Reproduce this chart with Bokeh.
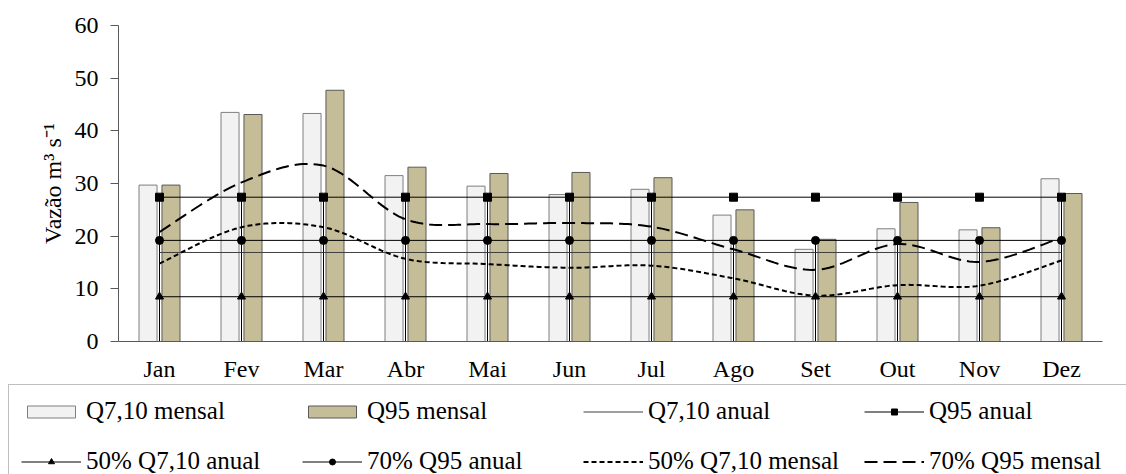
import numpy as np
from bokeh.plotting import figure
from bokeh.models import Range1d, FixedTicker, Legend, LegendItem
from bokeh.embed import file_html
from bokeh.resources import INLINE

months = ["Jan", "Fev", "Mar", "Abr", "Mai", "Jun", "Jul", "Ago", "Set", "Out", "Nov", "Dez"]
q710_mensal = [29.7, 43.5, 43.3, 31.5, 29.5, 27.9, 28.9, 24.0, 17.5, 21.4, 21.2, 30.9]
q95_mensal = [29.7, 43.1, 47.7, 33.1, 31.9, 32.1, 31.1, 25.0, 19.4, 26.4, 21.6, 28.1]
q710_anual = [16.9] * 12
q95_anual = [27.4] * 12
p50_q710_anual = [8.5] * 12
p70_q95_anual = [19.2] * 12
p50_q710_mensal = [14.8, 21.7, 21.7, 15.7, 14.7, 14.0, 14.4, 12.0, 8.7, 10.7, 10.6, 15.4]
p70_q95_mensal = [20.8, 30.2, 33.4, 23.2, 22.3, 22.5, 21.8, 17.5, 13.6, 18.5, 15.1, 19.7]
y_ticks = [0, 10, 20, 30, 40, 50, 60]

FONT = "Liberation Serif"
x = list(range(len(months)))

# page geometry (pixels): plot area spans 118..1102 horizontally, 25..341 vertically
W, H = 1126, 474
PL, PR, PT, PB = 118, 1102, 25, 341
X0, X1 = -0.5, 11.5
Y0, Y1 = 0, 60
kx = (PR - PL) / (X1 - X0)
ky = (PB - PT) / (Y1 - Y0)
x_range = Range1d(X0 - PL / kx, X1 + (W - PR) / kx)
y_range = Range1d(Y0 - (H - PB) / ky, Y1 + PT / ky)


def smooth(xs, ys, n=24):
    """Bezier (Catmull-Rom style) smoothing used only for drawing the curve."""
    xs = np.asarray(xs, float)
    ys = np.asarray(ys, float)
    px = np.concatenate([[xs[0]], xs, [xs[-1]]])
    py = np.concatenate([[ys[0]], ys, [ys[-1]]])
    out_x, out_y = [], []
    t = np.linspace(0, 1, n, endpoint=False)
    for i in range(1, len(px) - 2):
        p0x, p1x = px[i], px[i + 1]
        p0y, p1y = py[i], py[i + 1]
        c1x = p0x + (px[i + 1] - px[i - 1]) / 6.0
        c1y = p0y + (py[i + 1] - py[i - 1]) / 6.0
        c2x = p1x - (px[i + 2] - px[i]) / 6.0
        c2y = p1y - (py[i + 2] - py[i]) / 6.0
        bx = (1 - t) ** 3 * p0x + 3 * (1 - t) ** 2 * t * c1x + 3 * (1 - t) * t ** 2 * c2x + t ** 3 * p1x
        by = (1 - t) ** 3 * p0y + 3 * (1 - t) ** 2 * t * c1y + 3 * (1 - t) * t ** 2 * c2y + t ** 3 * p1y
        out_x.extend(bx.tolist())
        out_y.extend(by.tolist())
    out_x.append(float(xs[-1]))
    out_y.append(float(ys[-1]))
    return out_x, out_y


p = figure(width=W, height=H, x_range=x_range, y_range=y_range,
           output_backend="svg", toolbar_location=None,
           min_border_left=0, min_border_right=0, min_border_top=0, min_border_bottom=0)
p.outline_line_color = None
p.grid.visible = False
p.background_fill_color = "white"
p.border_fill_color = "white"

# bars
r_q7 = p.vbar(x=[i - 0.14 for i in x], top=q710_mensal, width=0.22, bottom=0,
              fill_color="#F2F2F2", line_color="#7F7F7F", line_width=1)
r_q95 = p.vbar(x=[i + 0.14 for i in x], top=q95_mensal, width=0.22, bottom=0,
               fill_color="#C4BD97", line_color="#595959", line_width=1)

# vertical drop lines at category centres
drop_top = [q95_anual[i] if min(q710_mensal[i], q95_mensal[i]) > q95_anual[i] else p70_q95_anual[i]
            for i in x]
p.segment(x0=x, y0=[0] * len(x), x1=x, y1=drop_top, line_color="black", line_width=1)

# annual lines
r_q7a = p.line(x, q710_anual, line_color="#404040", line_width=1)
r_q95a = p.line(x, q95_anual, line_color="black", line_width=1)
r_q95a_m = p.scatter(x, q95_anual, marker="square", size=8, fill_color="black", line_color="black")
r_p50a = p.line(x, p50_q710_anual, line_color="black", line_width=1)
r_p50a_m = p.scatter(x, p50_q710_anual, marker="triangle", size=8, fill_color="black", line_color="black")
r_p70a = p.line(x, p70_q95_anual, line_color="black", line_width=1)
r_p70a_m = p.scatter(x, p70_q95_anual, marker="circle", size=8, fill_color="black", line_color="black")

# smoothed monthly curves
sx, sy = smooth(x, p50_q710_mensal)
r_p50m = p.line(sx, sy, line_color="black", line_width=2, line_dash="5 3")
sx2, sy2 = smooth(x, p70_q95_mensal)
r_p70m = p.line(sx2, sy2, line_color="black", line_width=2, line_dash="13 6")

# axes, drawn at fixed data positions inside the full-size frame
xa, ya = p.xaxis[0], p.yaxis[0]
xa.fixed_location = 0
xa.bounds = (X0, X1)
ya.fixed_location = X0
ya.bounds = (Y0, Y1)
xa.ticker = FixedTicker(ticks=x)
xa.major_label_overrides = {i: m for i, m in zip(x, months)}
ya.ticker = FixedTicker(ticks=y_ticks)
for ax in (xa, ya):
    ax.axis_line_color = "#595959"
    ax.axis_line_width = 1
    ax.major_tick_line_color = "#595959"
    ax.minor_tick_line_color = None
    ax.major_label_text_font = FONT
    ax.major_label_text_font_size = "24px"
    ax.major_label_text_color = "black"
xa.major_tick_out = 0
xa.major_tick_in = 0
xa.major_label_standoff = 14
ya.major_tick_out = 8
ya.major_tick_in = 0
ya.major_label_standoff = 12
ya.axis_label = "Vazão m³ s⁻¹"
ya.axis_label_text_font = FONT
ya.axis_label_text_font_size = "24px"
ya.axis_label_text_font_style = "normal"
ya.axis_label_text_color = "black"
ya.axis_label_standoff = 6

legend = Legend(items=[
    LegendItem(label="Q7,10 mensal", renderers=[r_q7]),
    LegendItem(label="Q95 mensal", renderers=[r_q95]),
    LegendItem(label="Q7,10 anual", renderers=[r_q7a]),
    LegendItem(label="Q95 anual", renderers=[r_q95a, r_q95a_m]),
    LegendItem(label="50% Q7,10 anual", renderers=[r_p50a, r_p50a_m]),
    LegendItem(label="70% Q95 anual", renderers=[r_p70a, r_p70a_m]),
    LegendItem(label="50% Q7,10 mensal", renderers=[r_p50m]),
    LegendItem(label="70% Q95 mensal", renderers=[r_p70m]),
], location=(8, -14), ncols=4, orientation="horizontal",
    border_line_color="#7F7F7F", border_line_width=1, background_fill_color="white",
    background_fill_alpha=1.0,
    label_text_font=FONT, label_text_font_size="25px", label_text_color="black",
    glyph_width=60, glyph_height=15, label_standoff=5, padding=12, spacing=22,
    label_width=194, label_height=28, margin=0)
p.add_layout(legend)

open("out.html", "w").write(file_html(p, INLINE))
